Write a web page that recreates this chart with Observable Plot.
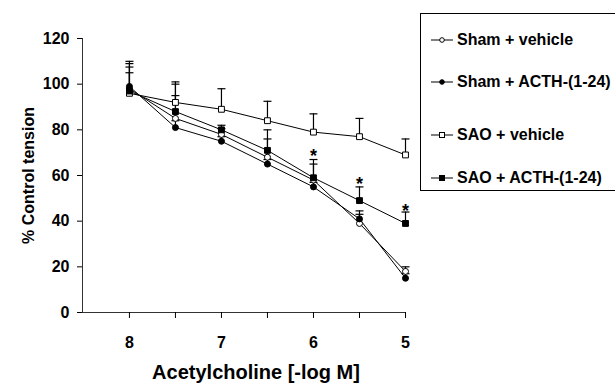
<!DOCTYPE html>
<html>
<head>
<meta charset="utf-8">
<script src="https://cdn.jsdelivr.net/npm/d3@7"></script>
<script src="https://cdn.jsdelivr.net/npm/@observablehq/plot@0.6"></script>
<style>
  body { margin: 0; background: #fff; }
  #wrap { position: relative; width: 615px; height: 385px; overflow: hidden; font-family: "Liberation Sans", Arial, sans-serif; }
  #legend { position: absolute; left: 420px; top: 13px; width: 200px; height: 176px; border: 1px solid #000; background: #fff; }
  .item { position: absolute; left: 10px; height: 18px; display: flex; align-items: center; font-weight: bold; font-size: 16px; color: #000; white-space: nowrap; }
  .item svg { margin-right: 2px; }
</style>
</head>
<body>
<div id="wrap"></div>
<script>
// ---- data ----
const doses = [8, 7.5, 7, 6.5, 6, 5.5, 5];
const seriesNames = ["Sham + vehicle", "Sham + ACTH-(1-24)", "SAO + vehicle", "SAO + ACTH-(1-24)"];
const shamVehicle     = [98, 85, 78, 68, 58, 39, 18];
const shamVehicleTop  = [107.5, 95, 80.5, 76, 65, 43, 20];
const shamACTH        = [99, 81, 75, 65, 55, 41, 15];
const shamACTHTop     = [105, 84, 77, 67, 57, 44.5, 17];
const saoVehicle      = [96, 92, 89, 84, 79, 77, 69];
const saoVehicleTop   = [110, 101, 98, 92.5, 87, 85, 76];
const saoACTH         = [97, 88, 80, 71, 59, 49, 39];
const saoACTHTop      = [109, 100, 82, 80, 67, 55, 44];
const starDoses  = [6, 5.5, 5];
const starValues = [70, 58, 46];
const xTicks = [8, 7.5, 7, 6.5, 6, 5.5, 5];
const yTicks = [0, 20, 40, 60, 80, 100, 120];
const xTitle = "Acetylcholine [-log M]";
const yTitle = "% Control tension";

const styles = [
  {symbol: "circle", fill: "white", r: 3},
  {symbol: "circle", fill: "black", r: 3},
  {symbol: "square", fill: "white", r: 3.3},
  {symbol: "square", fill: "black", r: 3.3}
];
const means = [shamVehicle, shamACTH, saoVehicle, saoACTH];
const tops  = [shamVehicleTop, shamACTHTop, saoVehicleTop, saoACTHTop];

const rows = [];
means.forEach((vals, s) => vals.forEach((v, i) => rows.push({series: s, x: doses[i], y: v, top: tops[s][i]})));
const stars = starDoses.map((d, i) => ({x: d, y: starValues[i]}));

const capSymbol = { draw(ctx, size) { const r = Math.sqrt(size / Math.PI); ctx.moveTo(-r, 0); ctx.lineTo(r, 0); } };

const font = "Liberation Sans, Arial, sans-serif";

const chart = Plot.plot({
  width: 615,
  height: 385,
  marginLeft: 82,
  marginRight: 210,
  marginTop: 38,
  marginBottom: 73,
  style: {fontFamily: font, fontWeight: "bold", fontSize: "16px", background: "white", color: "black"},
  x: {domain: [8.51, 5], ticks: xTicks},
  y: {domain: [0, 120], ticks: yTicks},
  marks: [
    Plot.frame({anchor: "left", stroke: "#333", strokeWidth: 1}),
    Plot.frame({anchor: "bottom", stroke: "#333", strokeWidth: 1}),
    Plot.axisY({ticks: yTicks, tickSize: 5, tickPadding: 8, fontSize: 16, fontWeight: "bold",
      label: yTitle, labelAnchor: "center", labelArrow: "none", labelOffset: 60}),
    Plot.axisX({ticks: xTicks, tickSize: 6, tickPadding: 18, fontSize: 16, fontWeight: "bold",
      tickFormat: d => Number.isInteger(d) ? d : "", label: null}),
    Plot.text([xTitle], {text: d => d, frameAnchor: "bottom", dy: 66, dx: 12, fontSize: 20, fontWeight: "bold"}),
    ...means.map((vals, s) => Plot.line(rows.filter(r => r.series === s), {x: "x", y: "y", stroke: "black", strokeWidth: 1})),
    Plot.ruleX(rows, {x: "x", y1: "y", y2: "top", stroke: "black", strokeWidth: 1.2}),
    Plot.dot(rows, {x: "x", y: "top", symbol: capSymbol, r: 4, stroke: "black", strokeWidth: 1.2, fill: "none"}),
    ...styles.map((st, s) => Plot.dot(rows.filter(r => r.series === s), {x: "x", y: "y", symbol: st.symbol, r: st.r, fill: st.fill, stroke: "black", strokeWidth: 1})),
    Plot.text(stars, {x: "x", y: "y", text: () => "*", fontSize: 18, fontWeight: "bold", dy: 4})
  ]
});

const wrap = document.getElementById("wrap");
wrap.appendChild(chart);

// legend
const legend = document.createElement("div");
legend.id = "legend";
const legendTops = [17, 59, 112, 155];
seriesNames.forEach((name, s) => {
  const st = styles[s];
  const item = document.createElement("div");
  item.className = "item";
  item.style.top = legendTops[s] + "px";
  const m = st.symbol === "circle"
    ? `<circle cx="11" cy="6" r="2.3" fill="${st.fill}" stroke="black"/>`
    : `<rect x="8.5" y="3.5" width="5" height="5" fill="${st.fill}" stroke="black"/>`;
  item.innerHTML = `<svg width="24" height="12"><line x1="0" x2="22" y1="6" y2="6" stroke="black"/>${m}</svg><span>${name}</span>`;
  legend.appendChild(item);
});
wrap.appendChild(legend);
</script>
</body>
</html>
